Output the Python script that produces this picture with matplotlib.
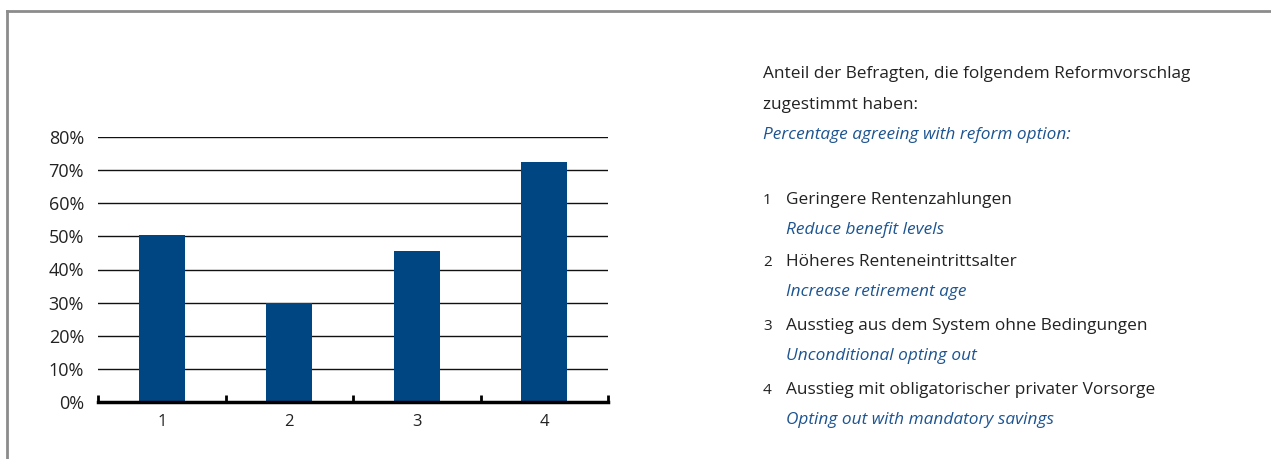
import matplotlib
matplotlib.use("Agg")
import matplotlib.pyplot as plt
from matplotlib.lines import Line2D

# values
categories = ["1", "2", "3", "4"]
agree_pct = [50.3, 29.9, 45.5, 72.4]
y_ticks = [0, 10, 20, 30, 40, 50, 60, 70, 80]

title_de = ["Anteil der Befragten, die folgendem Reformvorschlag", "zugestimmt haben:"]
title_en = "Percentage agreeing with reform option:"
options_de = [
    "Geringere Rentenzahlungen",
    "Höheres Renteneintrittsalter",
    "Ausstieg aus dem System ohne Bedingungen",
    "Ausstieg mit obligatorischer privater Vorsorge",
]
options_en = [
    "Reduce benefit levels",
    "Increase retirement age",
    "Unconditional opting out",
    "Opting out with mandatory savings",
]

BAR_COLOR = "#004683"
BLUE_TEXT = "#1d5490"
DARK_TEXT = "#222222"
FRAME = "#8c8c8c"

plt.rcParams["font.family"] = ["Open Sans", "DejaVu Sans"]

W, H = 1271, 459
fig = plt.figure(figsize=(W / 100, H / 100), dpi=100)

# outer frame: top and left border only
fig.add_artist(Line2D([7 / W, 1], [1 - 11 / H, 1 - 11 / H], color=FRAME, lw=2))
fig.add_artist(Line2D([7 / W, 7 / W], [0, 1 - 11 / H], color=FRAME, lw=2))

ax = fig.add_axes([98 / W, 1 - 402 / H, (608 - 98) / W, (402 - 137) / H])
x = list(range(len(categories)))
ax.bar(x, agree_pct, width=0.36, color=BAR_COLOR, zorder=3)
ax.set_xlim(-0.5, len(categories) - 0.5)
ax.set_ylim(0, 80)

ax.set_yticks(y_ticks)
ax.set_yticklabels([f"{v}%" for v in y_ticks], fontsize=13, color=DARK_TEXT)
ax.yaxis.grid(True, color="#111111", lw=1.0, zorder=0)
ax.tick_params(axis="y", length=0, pad=10)

ax.set_xticks(x)
ax.set_xticklabels(categories, fontsize=12, color=DARK_TEXT)
ax.tick_params(axis="x", length=0, pad=9)
# boundary ticks sitting on the baseline
for b in [i - 0.5 for i in range(len(categories) + 1)]:
    ax.plot([b, b], [0, 2.0], color="black", lw=2, zorder=4, clip_on=False,
            solid_capstyle="butt")

for s in ["top", "right", "left"]:
    ax.spines[s].set_visible(False)
ax.spines["bottom"].set_linewidth(2.5)
ax.spines["bottom"].set_zorder(5)

# right-hand text block
tx, nx = 763 / W, 786 / W
fs = 12.4
for yy, line in zip([74, 105], title_de):
    fig.text(tx, 1 - yy / H, line, fontsize=fs, color=DARK_TEXT, va="center")
fig.text(tx, 1 - 135 / H, title_en, fontsize=fs, color=BLUE_TEXT, va="center",
         style="italic")

item_y = [200, 262, 326, 390]
for i, (yy, de, en) in enumerate(zip(item_y, options_de, options_en)):
    fig.text(tx, 1 - yy / H, categories[i], fontsize=11, color=DARK_TEXT, va="center")
    fig.text(nx, 1 - yy / H, de, fontsize=fs, color=DARK_TEXT, va="center")
    fig.text(nx, 1 - (yy + 30) / H, en, fontsize=fs, color=BLUE_TEXT, va="center",
             style="italic")

fig.savefig("out.png", dpi=100)
